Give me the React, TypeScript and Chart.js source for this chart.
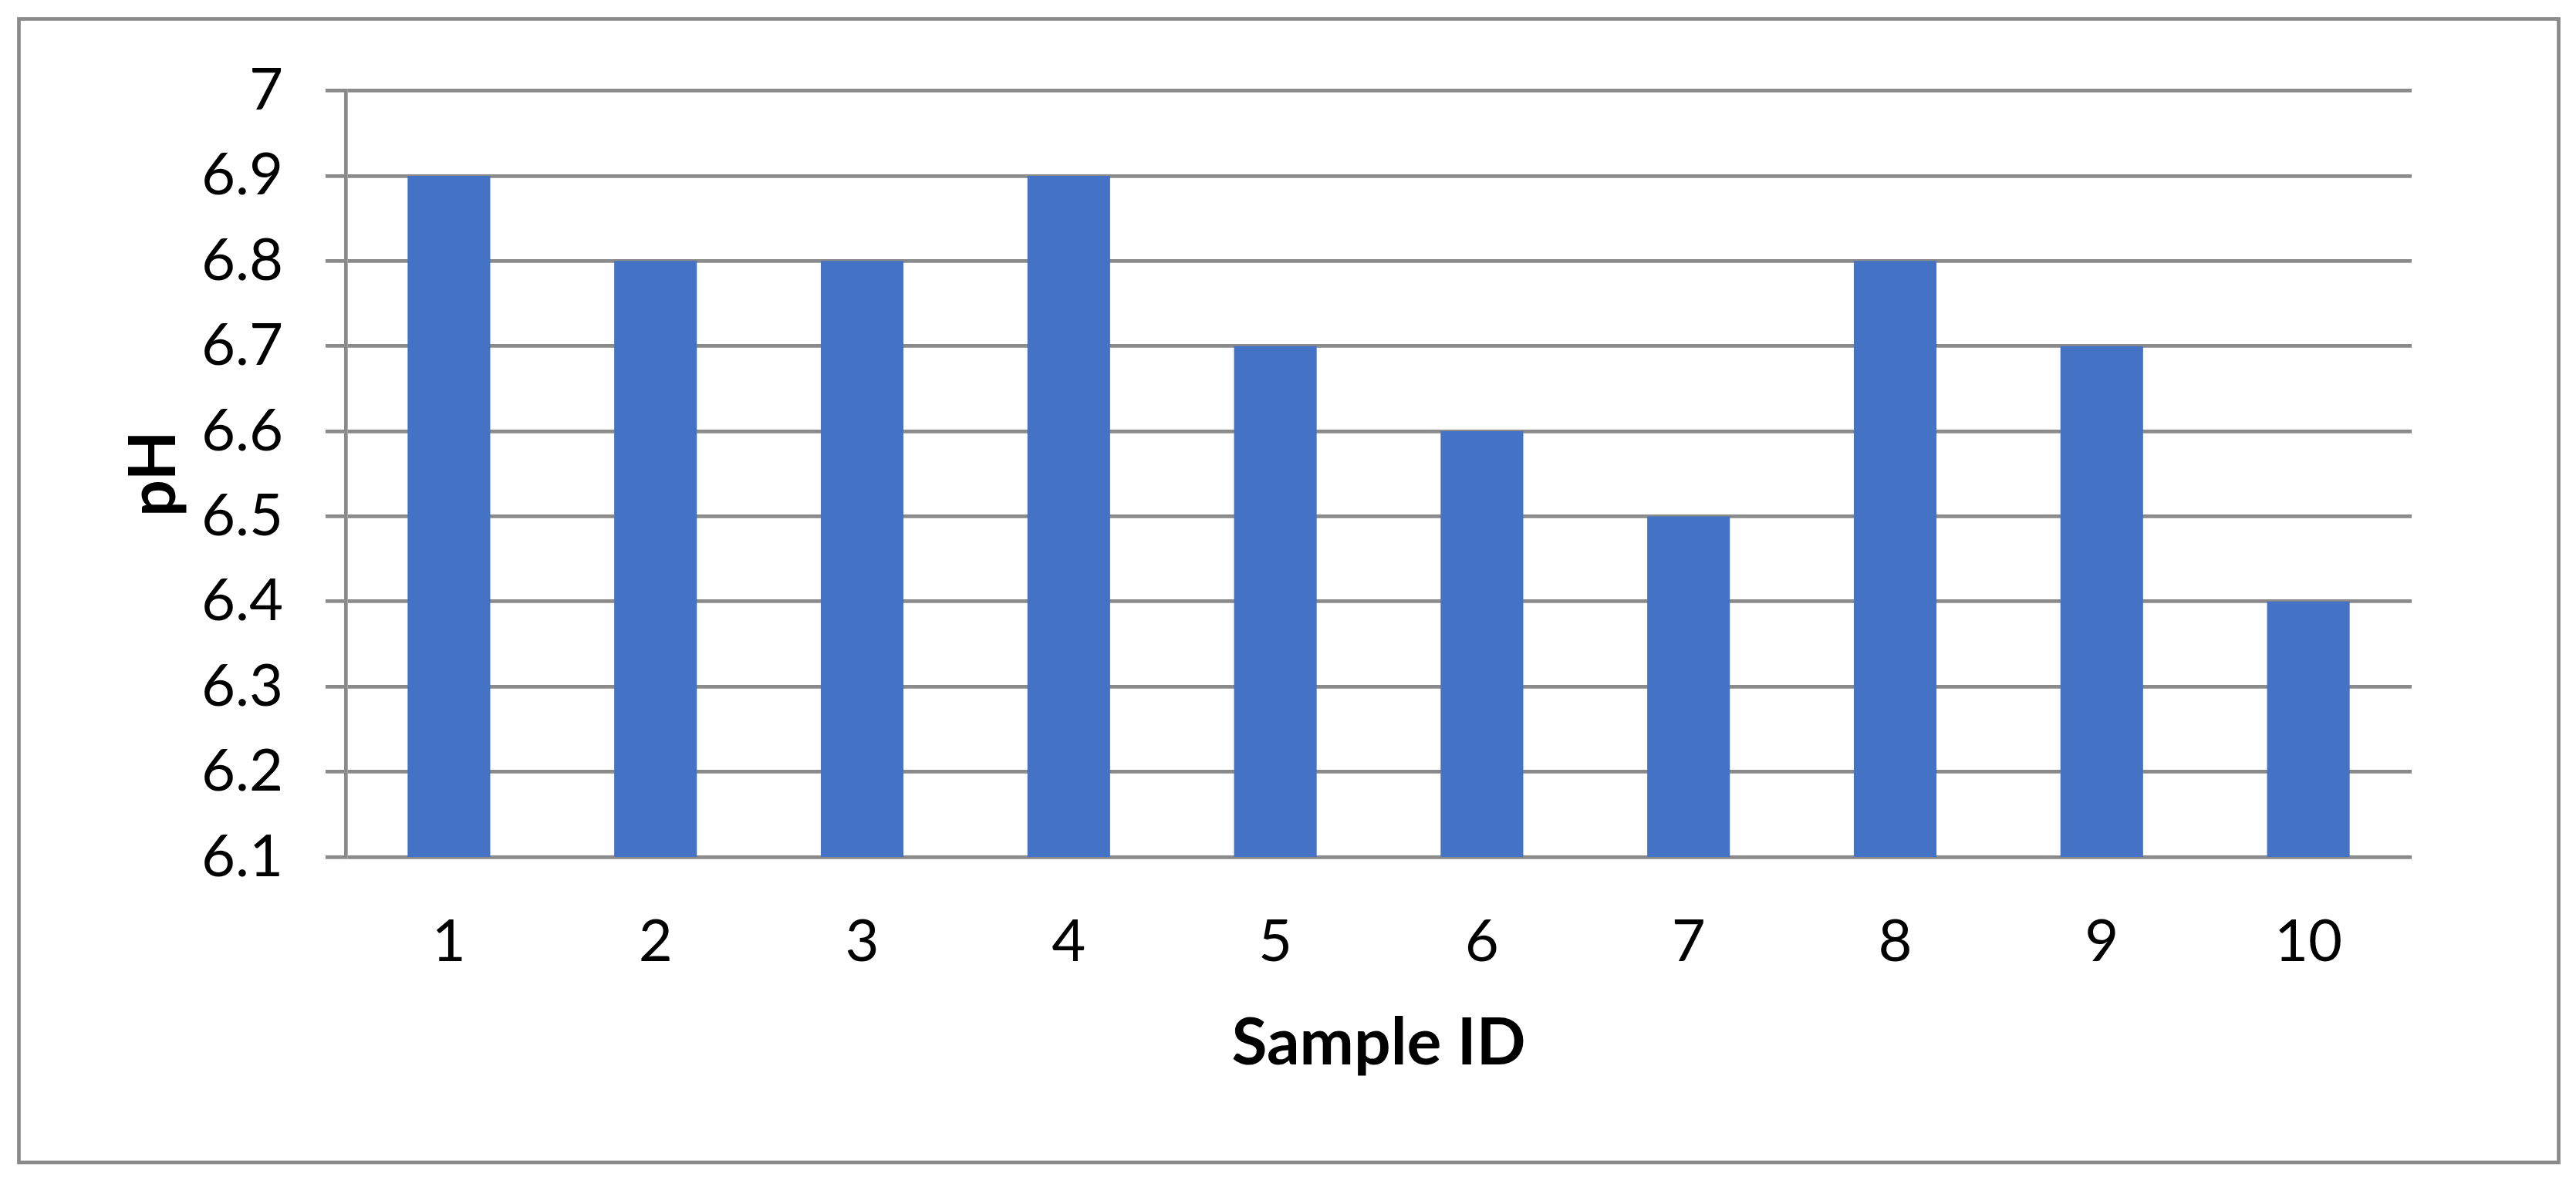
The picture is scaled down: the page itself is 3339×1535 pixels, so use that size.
import React, { useEffect, useRef } from "react";
import { Chart, registerables } from "chart.js";

Chart.register(...registerables);

const sampleIds: string[] = ["1", "2", "3", "4", "5", "6", "7", "8", "9", "10"];
const phValues: number[] = [6.9, 6.8, 6.8, 6.9, 6.7, 6.6, 6.5, 6.8, 6.7, 6.4];
const yTickValues: number[] = [6.1, 6.2, 6.3, 6.4, 6.5, 6.6, 6.7, 6.8, 6.9, 7.0];
const xAxisTitle = "Sample ID";
const yAxisTitle = "pH";

const W = 3339;
const H = 1535;
const GRID = "#8a8a8a";
const FONT = "Lato, 'Open Sans', sans-serif";

const borderPlugin = {
  id: "outerBorder",
  beforeDraw(chart: any) {
    const ctx = chart.ctx;
    ctx.save();
    ctx.fillStyle = "#ffffff";
    ctx.fillRect(0, 0, chart.width, chart.height);
    ctx.strokeStyle = GRID;
    ctx.lineWidth = 4.7;
    ctx.strokeRect(24.5, 24.5, 3316.5 - 24.5, 1507 - 24.5);
    ctx.restore();
  },
};

export default function App() {
  const ref = useRef<HTMLCanvasElement | null>(null);

  useEffect(() => {
    if (!ref.current) return;
    const chart = new Chart(ref.current, {
      type: "bar",
      data: {
        labels: sampleIds,
        datasets: [
          {
            label: yAxisTitle,
            data: phValues,
            backgroundColor: "#4472C4",
            borderWidth: 0,
            categoryPercentage: 1,
            barPercentage: 0.4,
          },
        ],
      },
      plugins: [borderPlugin],
      options: {
        responsive: false,
        animation: false,
        devicePixelRatio: 1,
        layout: { padding: { left: 0, top: 117.5, right: 213, bottom: 124 } },
        plugins: { legend: { display: false }, tooltip: { enabled: false } },
        scales: {
          x: {
            grid: { display: false, drawTicks: false },
            border: { display: false },
            ticks: {
              color: "#000",
              font: { family: FONT, size: 76 },
              padding: 65,
              maxRotation: 0,
              autoSkip: false,
            },
            title: {
              display: true,
              text: xAxisTitle,
              color: "#000",
              font: { family: FONT, size: 84, weight: "bold" },
              padding: { top: 0, bottom: 8 },
            },
            afterFit: (s: any) => {
              s.height = 300;
            },
          },
          y: {
            min: 6.1,
            max: 7.0,
            grid: { color: GRID, lineWidth: 4.7, tickLength: 26, drawTicks: true },
            border: { display: true, color: GRID, width: 4.7 },
            afterBuildTicks: (s: any) => {
              s.ticks = yTickValues.map((v) => ({ value: v }));
            },
            ticks: {
              color: "#000",
              font: { family: FONT, size: 76 },
              padding: 55,
              callback: (v: any) => String(Number(Number(v).toFixed(1))),
            },
            title: {
              display: true,
              text: yAxisTitle,
              color: "#000",
              font: { family: FONT, size: 84, weight: "bold" },
              padding: { top: 150, bottom: 0 },
            },
            afterFit: (s: any) => {
              s.width = 448;
            },
          },
        },
      },
    });
    return () => chart.destroy();
  }, []);

  return (
    <div style={{ position: "fixed", left: 0, top: 0, width: W, height: H, background: "#fff" }}>
      <canvas ref={ref} width={W} height={H} style={{ width: W, height: H, display: "block" }} />
    </div>
  );
}
